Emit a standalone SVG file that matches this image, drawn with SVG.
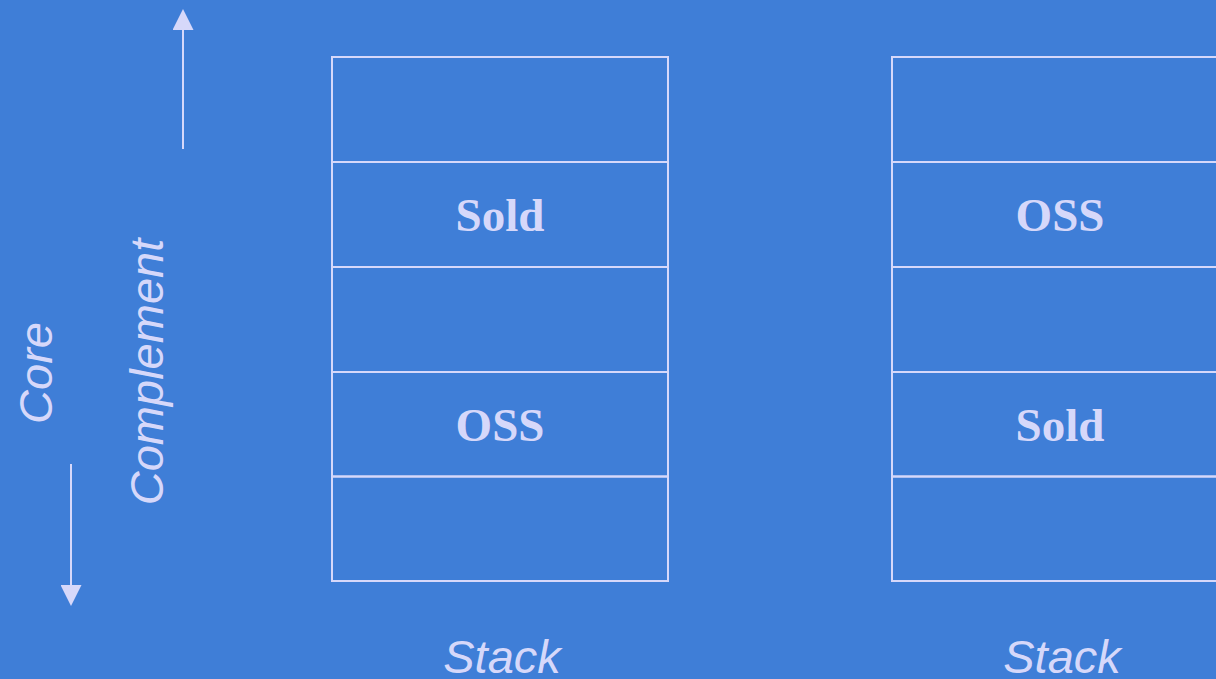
<svg xmlns="http://www.w3.org/2000/svg" width="1216" height="679" viewBox="0 0 1216 679">
<defs>
<style>
.cell{fill:none;stroke:#d6d8fa;stroke-width:2}
.lbl{font-family:"Liberation Serif",serif;font-weight:bold;font-size:47px;fill:#d6d8fa;text-anchor:middle}
.it{font-family:"Liberation Sans",Arial,sans-serif;font-style:italic;font-size:47px;fill:#d6d8fa;text-anchor:middle}
.arr{stroke:#d6d8fa;stroke-width:2;fill:none}
</style>
<marker id="ah" viewBox="0 0 10 10" refX="0" refY="5" markerWidth="21" markerHeight="21" markerUnits="userSpaceOnUse" orient="auto">
<path d="M0,0 L10,5 L0,10 z" fill="#d6d8fa"/>
</marker>
</defs>
<rect width="1216" height="679" fill="#3f7ed7"/>
<g id="connectors">
<line class="arr" x1="183" y1="149" x2="183" y2="30" marker-end="url(#ah)"/>
<line class="arr" x1="71" y1="464" x2="71" y2="585" marker-end="url(#ah)"/>
</g>
<g id="axis-labels">
<text class="it" transform="translate(52,373) rotate(-90)">Core</text>
<text class="it" transform="translate(163,372) rotate(-90)">Complement</text>
</g>
<g id="stack-left">
<rect class="cell" x="332" y="57" width="336" height="105"/>
<rect class="cell" x="332" y="162" width="336" height="105"/>
<rect class="cell" x="332" y="267" width="336" height="105"/>
<rect class="cell" x="332" y="372" width="336" height="104.5"/>
<rect class="cell" x="332" y="476.5" width="336" height="104.5"/>
<text class="lbl" x="500" y="231">Sold</text>
<text class="lbl" x="500" y="441">OSS</text>
<text class="it" x="502" y="673">Stack</text>
</g>
<g id="stack-right">
<rect class="cell" x="892" y="57" width="336" height="105"/>
<rect class="cell" x="892" y="162" width="336" height="105"/>
<rect class="cell" x="892" y="267" width="336" height="105"/>
<rect class="cell" x="892" y="372" width="336" height="104.5"/>
<rect class="cell" x="892" y="476.5" width="336" height="104.5"/>
<text class="lbl" x="1060" y="231">OSS</text>
<text class="lbl" x="1060" y="441">Sold</text>
<text class="it" x="1062" y="673">Stack</text>
</g>
</svg>
